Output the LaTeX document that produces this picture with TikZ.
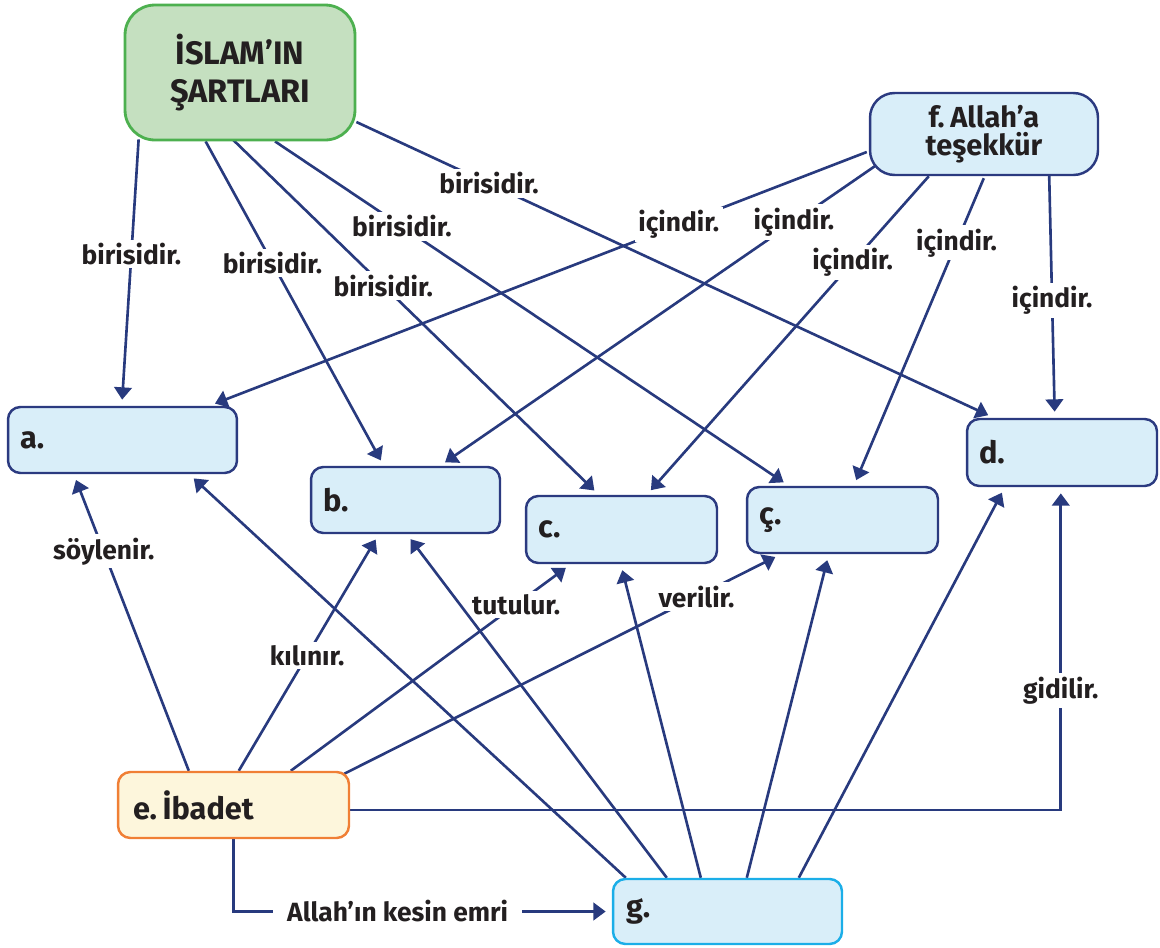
\documentclass[tikz,border=0pt]{standalone}
\usepackage{fontspec}
\setmainfont{Fira Sans}
\usetikzlibrary{calc,arrows.meta}
\pgfdeclarelayer{background}
\pgfsetlayers{background,main}
\definecolor{grnfill}{HTML}{C5E0C0}
\definecolor{grn}{HTML}{4DB04F}
\definecolor{boxfill}{HTML}{D9EEF9}
\definecolor{boxline}{HTML}{2B3A80}
\definecolor{efill}{HTML}{FDF6DC}
\definecolor{eline}{HTML}{F07F35}
\definecolor{gline}{HTML}{1BAEE8}
\definecolor{navy}{HTML}{283A7E}
\definecolor{txt}{HTML}{231F20}
\tikzset{
  box/.style={draw=boxline, fill=boxfill, line width=1.4pt, rounded corners=7pt,
    inner sep=0pt, align=left, text=txt, font=\fontsize{17.5}{20}\selectfont\bfseries},
  conn/.style={draw=navy, line width=1.5pt, shorten >=3.5pt, -{Triangle[length=7pt,width=10pt]}},
  lbl/.style={fill=white, inner sep=2pt, text=txt, font=\fontsize{15}{17}\selectfont\bfseries}
}
\begin{document}
\begin{tikzpicture}[x=0.02cm,y=-0.02cm]
\useasboundingbox (0,0) rectangle (1160,947);
% main nodes
\node[draw=grn, fill=grnfill, line width=1.6pt, rounded corners=17pt, minimum width=4.6cm,
  minimum height=2.7cm, align=center, text=txt, inner sep=0pt,
  font=\fontsize{18.5}{21.5}\selectfont\bfseries] (isl) at (240,72.5) {İSLAM’IN\\ŞARTLARI};
\node[box, rounded corners=14pt, minimum width=4.56cm, minimum height=1.64cm, align=center,
  font=\fontsize{16.5}{16}\selectfont\bfseries] (f) at (984,134) {f.\hspace{.2em}Allah’a\\teşekkür};
\node[box, minimum width=4.58cm, minimum height=1.32cm, text width=4.1cm] (a) at (122.5,440) {a.};
\node[box, minimum width=3.78cm, minimum height=1.32cm, text width=3.3cm] (b) at (405.5,500) {b.};
\node[box, minimum width=3.82cm, minimum height=1.34cm, text width=3.34cm] (c) at (621.5,529.5) {c.};
\node[box, minimum width=3.82cm, minimum height=1.32cm, text width=3.34cm] (cc) at (842.5,520) {ç.};
\node[box, minimum width=3.80cm, minimum height=1.34cm, text width=3.32cm] (d) at (1062,452.5) {d.};
\node[box, draw=eline, fill=efill, minimum width=4.62cm, minimum height=1.32cm, text width=4.02cm] (e) at (233.5,805) {e.\hspace{.18em}İbadet};
\node[box, draw=gline, minimum width=4.58cm, minimum height=1.30cm, text width=4.06cm] (g) at (727.5,911.5) {g.};
\begin{pgfonlayer}{background}
% from İslam'ın şartları
\draw[conn] ($(isl.south west)+(15,-2)$) -- node[lbl,pos=.43]{birisidir.} ($(a.north west)+(115,0)$);
\draw[conn] ($(isl.south west)+(82,0)$) -- node[lbl,pos=.375]{birisidir.} ($(b.north west)+(74,0)$);
\draw[conn] ($(isl.south west)+(108,-3)$) -- node[lbl,pos=.413]{birisidir.} ($(c.north west)+(74,0)$);
\draw[conn] ($(isl.south)+(35,0)$) -- node[lbl,pos=.247]{birisidir.} ($(cc.north west)+(43,0)$);
\draw[conn] ($(isl.east)+(0,49.5)$) -- node[lbl,pos=.208]{birisidir.} ($(d.north west)+(28,0)$);
% from f
\draw[conn] ($(f.west)+(-2,18)$) -- node[lbl,pos=.286]{içindir.} ($(a.north east)+(-29,0)$);
\draw[conn] ($(f.south west)+(6,-10)$) -- node[lbl,pos=.186]{içindir.} ($(b.north)+(34.5,0)$);
\draw[conn] ($(f.south west)+(60,0)$) -- node[lbl,pos=.27]{içindir.} ($(c.north west)+(122,0)$);
\draw[conn] ($(f.south west)+(115,2)$) -- node[lbl,pos=.21]{içindir.} ($(cc.north west)+(108,0)$);
\draw[conn] ($(f.south east)+(-50,0)$) -- node[lbl,pos=.515]{içindir.} ($(d.north west)+(89,0)$);
% from e
\draw[conn] ($(e.north west)+(72,0)$) -- node[lbl,pos=.74]{söylenir.} ($(a.south west)+(67,0)$);
\draw[conn] ($(e.north west)+(122,0)$) -- node[lbl,pos=.488]{kılınır.} ($(b.south west)+(69,0)$);
\draw[conn] ($(e.north west)+(174,0)$) -- node[lbl,pos=.805]{tutulur.} ($(c.south west)+(46,0)$);
\draw[conn] ($(e.north east)+(-6,3)$) -- node[lbl,pos=.807]{verilir.} ($(cc.south west)+(35,0)$);
\draw[conn] ($(e.east)+(0,5)$) -| node[lbl,pos=.685]{gidilir.} ($(d.south west)+(95,0)$);
\draw[conn] (e.south) |- node[lbl,pos=.717,inner xsep=8pt]{Allah’ın kesin emri} (g.west);
% from g
\draw[conn] ($(g.north west)+(14,0)$) -- ($(a.south east)+(-49,0)$);
\draw[conn] ($(g.north west)+(55,0)$) -- ($(b.south west)+(97,0)$);
\draw[conn] ($(g.north west)+(89,0)$) -- ($(c.south west)+(96,0)$);
\draw[conn] ($(g.north west)+(135,0)$) -- ($(cc.south west)+(83,0)$);
\draw[conn] ($(g.north west)+(187,0)$) -- ($(d.south west)+(39,0)$);
\end{pgfonlayer}
\end{tikzpicture}
\end{document}
